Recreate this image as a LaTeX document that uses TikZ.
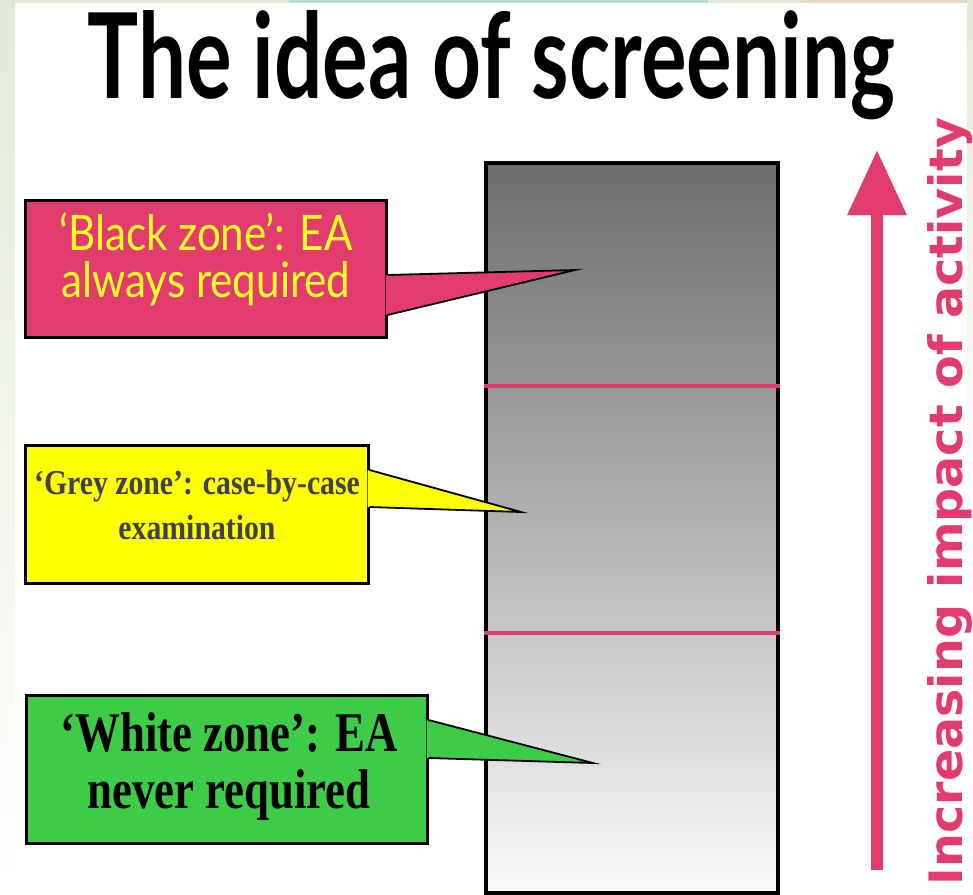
\documentclass[tikz,border=0pt]{standalone}
\usepackage{fontspec}
\usepackage{graphicx}
\usetikzlibrary{positioning,arrows.meta,calc}

\newfontfamily\gillfont{Lato}
\newfontfamily\gillnarrow{Lato}[FakeStretch=0.86]
\newfontfamily\narrowtimes{Liberation Serif}[FakeStretch=0.85]
\newfontfamily\condtimes{Liberation Serif}[FakeStretch=0.8]
\newfontfamily\impactfont{DejaVu Sans}

\definecolor{pinkred}{RGB}{226,60,110}
\definecolor{greyzone}{RGB}{255,255,0}
\definecolor{whitezone}{RGB}{62,204,72}
\definecolor{zoneyellow}{RGB}{255,255,40}
\definecolor{greytext}{RGB}{64,64,80}
\definecolor{bartop}{RGB}{108,108,108}
\definecolor{barbottom}{RGB}{250,250,250}
\definecolor{pagegreen}{RGB}{226,234,214}
\definecolor{pageteal}{RGB}{184,221,208}
\definecolor{pagesand}{RGB}{232,216,196}

\tikzset{
    zonebox/.style={draw=black,line width=3pt,inner sep=0pt},
    zonetip/.style={draw=black,line width=1.8pt,line join=miter},
    zoneline/.style={draw=pinkred,line width=4pt},
}

\begin{document}
\begin{tikzpicture}[x=1pt,y=-1pt]
    % page
    \fill[white] (0,0) rectangle (973,894);
    \shade[top color=pagegreen,bottom color=white] (0,0) rectangle (15,894);
    \shade[top color=pagegreen,bottom color=white] (967,0) rectangle (973,500);
    \fill[pagegreen] (15,0) rectangle (967,3);
    \fill[pageteal] (289,0) rectangle (708,3);
    \fill[pagesand] (801,0) rectangle (967,3);
    \useasboundingbox (0,0) rectangle (973,894);

    \draw
        node[draw=black,line width=3.5pt,top color=bartop,bottom color=barbottom,minimum width=292pt,minimum height=730pt] (bar) at (632,528) {}

        node[zonebox,fill=pinkred,minimum width=361pt,minimum height=137pt] (black) at (205.5,268.5) {}
        node[zonebox,fill=greyzone,minimum width=343pt,minimum height=138pt] (grey) at (196.5,514) {}
        node[zonebox,fill=whitezone,minimum width=401pt,minimum height=148pt] (white) at (226.5,769) {}
    ;
    \draw[zoneline] (bar.west |- 0,386) -- (bar.east |- 0,386);
    \draw[zoneline] (bar.west |- 0,633) -- (bar.east |- 0,633);

    \coordinate (blacktip) at (575,270);
    \coordinate (greytip) at (521,512);
    \coordinate (whitetip) at (593,763);

    \fill[pinkred] ($(black.east |- 0,275)+(-2,0)$) -- (blacktip) -- ($(black.east |- 0,315)+(-2,0)$) -- cycle;
    \draw[zonetip] (black.east |- 0,275) -- (blacktip) -- (black.east |- 0,315);
    \fill[greyzone] ($(grey.east |- 0,470)+(-2,0)$) -- (greytip) -- ($(grey.east |- 0,507)+(-2,0)$) -- cycle;
    \draw[zonetip] (grey.east |- 0,470) -- (greytip) -- (grey.east |- 0,507);
    \fill[whitezone] ($(white.east |- 0,720)+(-2,0)$) -- (whitetip) -- ($(white.east |- 0,758)+(-2,0)$) -- cycle;
    \draw[zonetip] (white.east |- 0,720) -- (whitetip) -- (white.east |- 0,758);

    \draw
        node[anchor=base,inner sep=0pt] (title) at (491.5,98) {\resizebox{807pt}{88pt}{\gillfont\bfseries The idea of screening}}

        node[align=center,inner sep=0pt,text=zoneyellow,font={\gillnarrow\fontsize{49}{47}\selectfont}] (blacktext) at (206,259) {‘Black zone’: EA\\always required}
        node[align=center,inner sep=0pt,text=greytext,font={\narrowtimes\bfseries\fontsize{35}{45}\selectfont}] (greytext) at (197,505.5) {‘Grey zone’: case-by-case\\examination}
        node[align=center,inner sep=0pt,text=black,font={\condtimes\bfseries\fontsize{56}{57}\selectfont}] (whitetext) at (229,767) {‘White zone’: EA\\never required}
    ;

    \coordinate (arrowfoot) at (877,870);
    \coordinate (arrowhead) at (877,150);
    \draw[line width=12pt,black!45,opacity=0.5,shift={(5,4)},-{Triangle[length=65pt,width=56pt]}] (arrowfoot) -- (arrowhead);
    \draw[line width=12pt,pinkred,-{Triangle[length=65pt,width=56pt]}] (arrowfoot) -- (arrowhead);

    \node[rotate=90,anchor=base,inner sep=0pt,text=pinkred] (impact) at (962,501.5) {\resizebox{767pt}{35pt}{\impactfont\bfseries Increasing impact of activity}};
\end{tikzpicture}
\end{document}
